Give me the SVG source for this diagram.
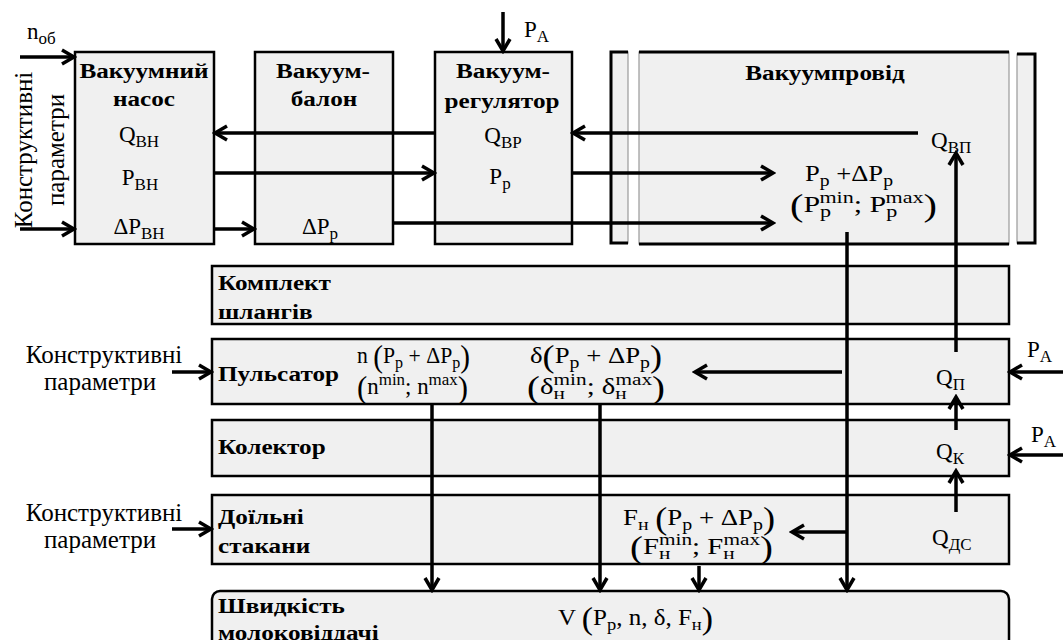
<svg xmlns="http://www.w3.org/2000/svg" width="1063" height="640" viewBox="0 0 1063 640">
<defs>
<marker id="ah" markerUnits="userSpaceOnUse" markerWidth="18" markerHeight="18" viewBox="0 0 18 18" refX="15" refY="9" orient="auto">
<path d="M3,2 L15,9 L3,16" fill="none" stroke="#000" stroke-width="3.5"/>
</marker>
<style>
.box{fill:#f0f0f0;stroke:#000;stroke-width:2.5}
.thin{fill:#f0f0f0;stroke:#999;stroke-width:1.2}
.edge{fill:none;stroke:#000;stroke-width:3}
.c{fill:none;stroke:#000;stroke-width:3.5;marker-end:url(#ah)}
.b{font-family:"Liberation Serif",serif;font-weight:bold;font-size:20px}
.t{font-family:"Liberation Serif",serif;font-size:25px}
.m{font-family:"Liberation Serif",serif;font-size:23px}
.s{font-size:17px}
.q{font-size:31px}
</style>
</defs>
<rect width="1063" height="640" fill="#fff"/>

<g id="pump">
<rect class="box" x="75" y="52" width="139" height="192"/>
<text class="b" text-anchor="middle" transform="translate(144,78) scale(1.26,1)">Вакуумний</text>
<text class="b" text-anchor="middle" transform="translate(144,106) scale(1.26,1)">насос</text>
<text class="m" x="139" y="142" text-anchor="middle">Q<tspan class="s" dy="5">ВН</tspan></text>
<text class="m" x="140" y="185" text-anchor="middle">P<tspan class="s" dy="5">ВН</tspan></text>
<text class="m" x="139" y="234" text-anchor="middle">ΔP<tspan class="s" dy="5">ВН</tspan></text>
</g>

<g id="balloon">
<rect class="box" x="255" y="52" width="138" height="192"/>
<text class="b" text-anchor="middle" transform="translate(323,78) scale(1.26,1)">Вакуум-</text>
<text class="b" text-anchor="middle" transform="translate(324,106) scale(1.26,1)">балон</text>
<text class="m" x="320" y="234" text-anchor="middle">ΔP<tspan class="s" dy="5">р</tspan></text>
</g>

<g id="regulator">
<rect class="box" x="435" y="52" width="137" height="192"/>
<text class="b" text-anchor="middle" transform="translate(503,78) scale(1.26,1)">Вакуум-</text>
<text class="b" text-anchor="middle" transform="translate(502,108) scale(1.26,1)">регулятор</text>
<text class="m" x="503" y="143" text-anchor="middle">Q<tspan class="s" dy="5">ВР</tspan></text>
<text class="m" x="500" y="184" text-anchor="middle">P<tspan class="s" dy="5">р</tspan></text>
</g>

<g id="vacuum-line">
<rect class="thin" x="611" y="52" width="17" height="191"/>
<path class="edge" d="M628,52 H611 V243 H628"/>
<rect class="thin" x="639" y="52" width="370" height="192"/>
<path class="edge" d="M639,52 H1009 M639,244 H1009"/>
<rect class="thin" x="1017" y="54" width="18" height="189"/>
<path class="edge" d="M1017,54 H1035 V243 H1017"/>
<text class="b" text-anchor="middle" transform="translate(825,80) scale(1.26,1)">Вакуумпровід</text>
<text class="m" x="931" y="148">Q<tspan class="s" dy="5">ВП</tspan></text>
<text class="m" x="805" y="181" textLength="88" lengthAdjust="spacingAndGlyphs">P<tspan class="s" dy="5">р</tspan><tspan dy="-5"> +ΔP</tspan><tspan class="s" dy="5">р</tspan></text>
<text class="m" x="790" y="212" textLength="147" lengthAdjust="spacingAndGlyphs"><tspan class="q" dy="4">(</tspan><tspan dy="-4">P</tspan><tspan class="s" dy="5">р</tspan><tspan class="s" dx="-9" dy="-14">min</tspan><tspan dy="9">; P</tspan><tspan class="s" dy="5">р</tspan><tspan class="s" dx="-9" dy="-14">max</tspan><tspan class="q" dy="13">)</tspan></text>
</g>

<g id="hoses">
<rect class="box" x="212" y="266" width="797" height="58"/>
<text class="b" transform="translate(218,290) scale(1.26,1)">Комплект</text>
<text class="b" transform="translate(218,319) scale(1.26,1)">шлангів</text>
</g>

<g id="pulsator">
<rect class="box" x="212" y="339" width="797" height="65"/>
<text class="b" transform="translate(218,381) scale(1.26,1)">Пульсатор</text>
<text class="m" x="357" y="363" textLength="113" lengthAdjust="spacingAndGlyphs">n <tspan class="q" dy="4">(</tspan><tspan dy="-4">P</tspan><tspan class="s" dy="5">р</tspan><tspan dy="-5"> + ΔP</tspan><tspan class="s" dy="5">р</tspan><tspan class="q" dy="-1">)</tspan></text>
<text class="m" x="357" y="394" textLength="111" lengthAdjust="spacingAndGlyphs"><tspan class="q" dy="4">(</tspan><tspan dy="-4">n</tspan><tspan class="s" dy="-9">min</tspan><tspan dy="9">; n</tspan><tspan class="s" dy="-9">max</tspan><tspan class="q" dy="13">)</tspan></text>
<text class="m" x="530" y="363" textLength="132" lengthAdjust="spacingAndGlyphs">δ<tspan class="q" dy="4">(</tspan><tspan dy="-4">P</tspan><tspan class="s" dy="5">р</tspan><tspan dy="-5"> + ΔP</tspan><tspan class="s" dy="5">р</tspan><tspan class="q" dy="-1">)</tspan></text>
<text class="m" x="527" y="394" textLength="138" lengthAdjust="spacingAndGlyphs"><tspan class="q" dy="4">(</tspan><tspan dy="-4">δ</tspan><tspan class="s" dy="5">н</tspan><tspan class="s" dx="-9" dy="-14">min</tspan><tspan dy="9">; δ</tspan><tspan class="s" dy="5">н</tspan><tspan class="s" dx="-9" dy="-14">max</tspan><tspan class="q" dy="13">)</tspan></text>
<text class="m" x="936" y="385">Q<tspan class="s" dy="5">П</tspan></text>
</g>

<g id="collector">
<rect class="box" x="212" y="420" width="797" height="56"/>
<text class="b" transform="translate(218,454) scale(1.26,1)">Колектор</text>
<text class="m" x="936" y="459">Q<tspan class="s" dy="5">К</tspan></text>
</g>

<g id="cups">
<rect class="box" x="212" y="495" width="797" height="69"/>
<text class="b" transform="translate(218,524) scale(1.26,1)">Доїльні</text>
<text class="b" transform="translate(218,553) scale(1.26,1)">стакани</text>
<text class="m" x="623" y="525" textLength="152" lengthAdjust="spacingAndGlyphs">F<tspan class="s" dy="5">н</tspan><tspan dy="-5"> </tspan><tspan class="q" dy="4">(</tspan><tspan dy="-4">P</tspan><tspan class="s" dy="5">р</tspan><tspan dy="-5"> + ΔP</tspan><tspan class="s" dy="5">р</tspan><tspan class="q" dy="-1">)</tspan></text>
<text class="m" x="630" y="554" textLength="143" lengthAdjust="spacingAndGlyphs"><tspan class="q" dy="4">(</tspan><tspan dy="-4">F</tspan><tspan class="s" dy="5">н</tspan><tspan class="s" dx="-9" dy="-14">min</tspan><tspan dy="9">; F</tspan><tspan class="s" dy="5">н</tspan><tspan class="s" dx="-9" dy="-14">max</tspan><tspan class="q" dy="13">)</tspan></text>
<text class="m" x="932" y="545">Q<tspan class="s" dy="5">ДС</tspan></text>
</g>

<g id="milk-speed">
<rect class="box" x="212" y="591" width="797" height="80" rx="8"/>
<text class="b" transform="translate(218,613) scale(1.26,1)">Швидкість</text>
<text class="b" transform="translate(218,640) scale(1.26,1)">молоковіддачі</text>
<text class="m" x="558" y="625" textLength="155" lengthAdjust="spacingAndGlyphs">V <tspan class="q" dy="4">(</tspan><tspan dy="-4">P</tspan><tspan class="s" dy="5">р</tspan><tspan dy="-5">, n, δ, F</tspan><tspan class="s" dy="5">н</tspan><tspan class="q" dy="-1">)</tspan></text>
</g>

<g id="inputs">
<text class="m" x="27" y="39">n<tspan class="s" dy="5">об</tspan></text>
<text class="t" text-anchor="middle" transform="translate(32,150) rotate(-90)">Конструктивні</text>
<text class="t" text-anchor="middle" transform="translate(64,150) rotate(-90)">параметри</text>
<text class="m" x="524" y="37">P<tspan class="s" dy="5">A</tspan></text>
<text class="t" x="104" y="363" text-anchor="middle">Конструктивні</text>
<text class="t" x="100" y="390" text-anchor="middle">параметри</text>
<text class="t" x="104" y="521" text-anchor="middle">Конструктивні</text>
<text class="t" x="100" y="548" text-anchor="middle">параметри</text>
<text class="m" x="1027" y="357">P<tspan class="s" dy="5">A</tspan></text>
<text class="m" x="1031" y="442">P<tspan class="s" dy="5">A</tspan></text>
</g>

<g id="connectors">
<path class="c" d="M20,57 H74"/>
<path class="c" d="M20,229 H74"/>
<path class="c" d="M503,12 V51"/>
<path class="c" d="M918,133 H573"/>
<path class="c" d="M435,133 H215"/>
<path class="c" d="M214,173 H434"/>
<path class="c" d="M572,173 H773"/>
<path class="c" d="M214,229 H254"/>
<path class="c" d="M393,223 H773"/>
<path class="c" d="M847,232 V590"/>
<path class="c" d="M956,352 V153"/>
<path class="c" d="M956,430 V397"/>
<path class="c" d="M956,512 V471"/>
<path class="c" d="M1063,372 H1010"/>
<path class="c" d="M1063,455 H1010"/>
<path class="c" d="M172,372 H211"/>
<path class="c" d="M172,529 H211"/>
<path class="c" d="M842,372 H695"/>
<path class="c" d="M847,532 H792"/>
<path class="c" d="M432,405 V590"/>
<path class="c" d="M600,405 V590"/>
<path class="c" d="M699,566 V590"/>
</g>
</svg>
